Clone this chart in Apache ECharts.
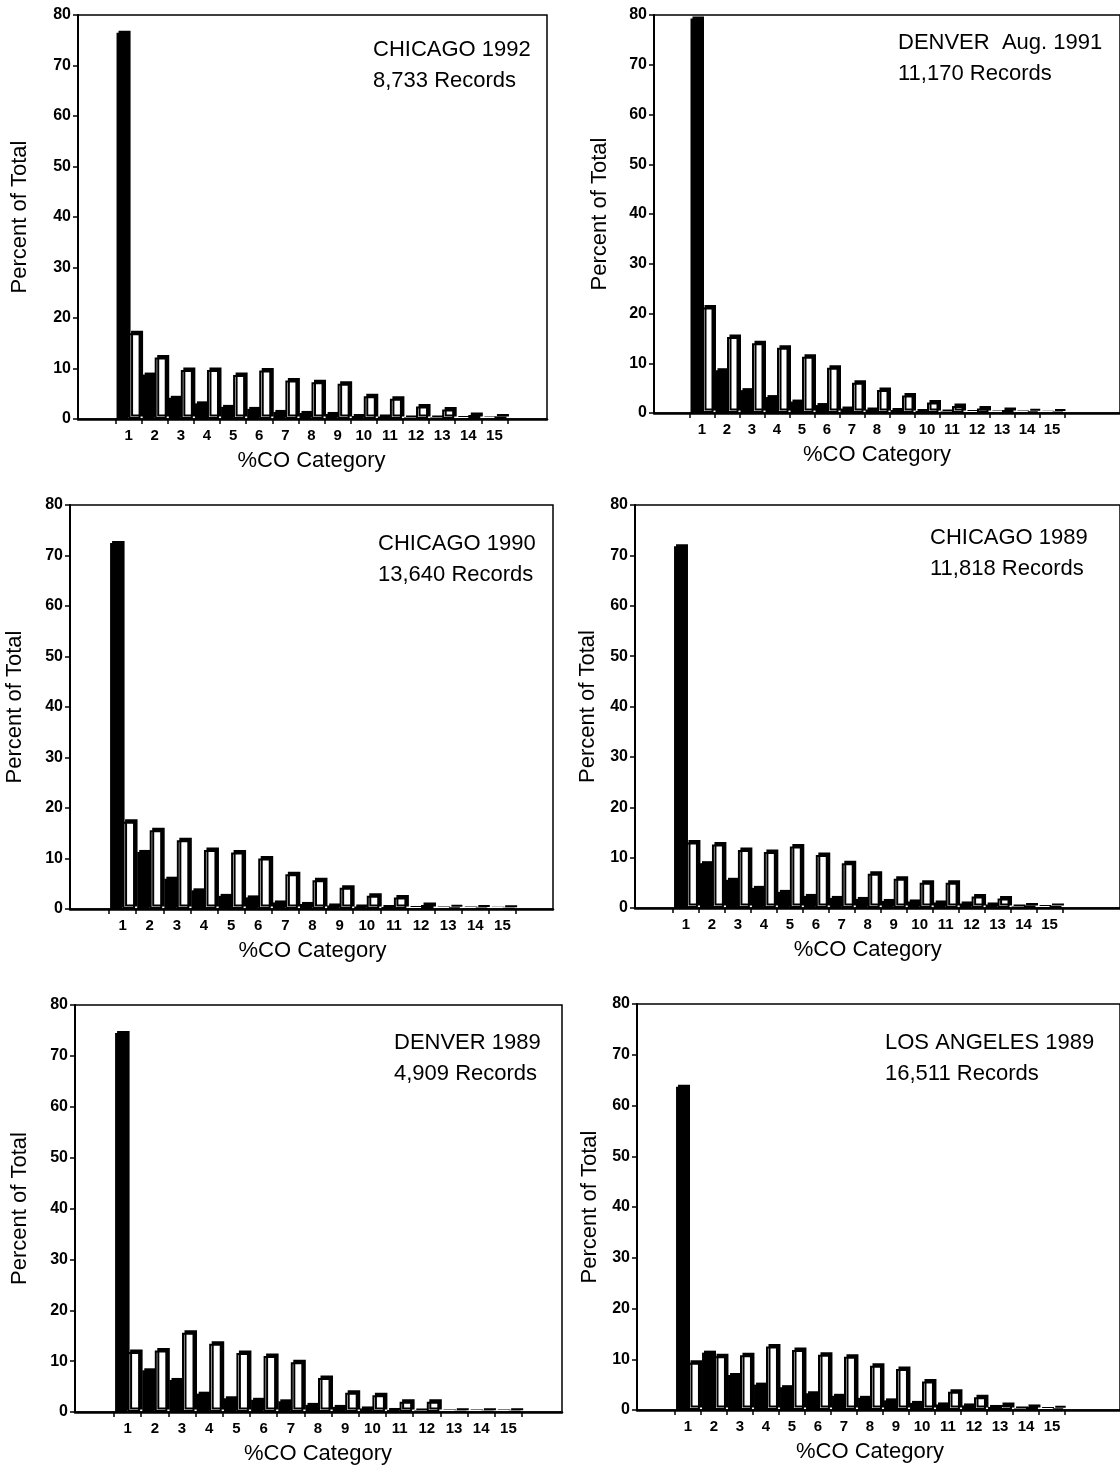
<!DOCTYPE html>
<html lang="en">
<head>
    <meta charset="UTF-8">
    <title>%CO Category distributions</title>
    <script src="https://cdn.jsdelivr.net/npm/echarts@6/dist/echarts.min.js"></script>
</head>
<body style="margin: 0; background: #fff">
<div id="main" style="width: 1120px; height: 1467px"></div>

<script type="text/javascript">
    // %CO categories shown on the x axis
    var categories = ['1', '2', '3', '4', '5', '6', '7', '8', '9', '10', '11', '12', '13', '14', '15'];

    // percent of total, dark bar / light bar in each category
    var chi1992Dark  = [76.5, 8.8, 4.2, 3.1, 2.4, 2.0, 1.4, 1.2, 1.0, 0.6, 0.5, 0.3, 0.3, 0.2, 0.1];
    var chi1992Light = [17.0, 12.2, 9.7, 9.7, 8.7, 9.6, 7.6, 7.3, 7.0, 4.5, 4.0, 2.5, 1.9, 0.8, 0.5];

    var den1991Dark  = [79.3, 8.6, 4.6, 3.2, 2.3, 1.6, 0.9, 0.7, 0.6, 0.4, 0.3, 0.2, 0.1, 0.1, 0.05];
    var den1991Light = [21.2, 15.3, 14.0, 13.1, 11.3, 9.1, 6.1, 4.6, 3.5, 2.1, 1.4, 0.9, 0.6, 0.3, 0.2];

    var chi1990Dark  = [72.5, 11.3, 6.0, 3.7, 2.6, 2.3, 1.3, 1.0, 0.7, 0.5, 0.4, 0.2, 0.1, 0.1, 0.05];
    var chi1990Light = [17.3, 15.6, 13.6, 11.7, 11.2, 10.0, 6.9, 5.7, 4.2, 2.6, 2.3, 0.8, 0.3, 0.2, 0.1];

    var chi1989Dark  = [71.8, 8.9, 5.6, 4.0, 3.2, 2.4, 2.0, 1.8, 1.4, 1.3, 1.1, 0.9, 0.7, 0.3, 0.2];
    var chi1989Light = [13.0, 12.6, 11.5, 11.1, 12.2, 10.5, 8.9, 6.8, 5.8, 5.0, 5.0, 2.3, 1.9, 0.5, 0.4];

    var den1989Dark  = [74.5, 8.2, 6.3, 3.6, 2.7, 2.4, 2.1, 1.4, 1.0, 0.7, 0.4, 0.3, 0.1, 0.1, 0.1];
    var den1989Light = [11.8, 12.1, 15.6, 13.4, 11.6, 11.0, 9.8, 6.7, 3.8, 3.3, 2.0, 2.0, 0.1, 0.1, 0.1];

    var la1989Dark  = [63.7, 11.3, 6.9, 5.0, 4.5, 3.3, 2.8, 2.4, 1.9, 1.4, 1.1, 0.9, 0.6, 0.3, 0.2];
    var la1989Light = [9.3, 10.6, 10.8, 12.5, 11.8, 10.9, 10.5, 8.7, 8.1, 5.6, 3.6, 2.5, 1.0, 0.6, 0.3];

    var FONT = '"Liberation Sans", Arial, Helvetica, sans-serif';

    // frame = [left, top, width, height], bars = [left, width] of categories 1..15
    var panels = [
        {label: 'CHICAGO 1992\n8,733 Records', dark: chi1992Dark, light: chi1992Light,
            frame: [78, 15, 469, 404], bars: [115.5, 392], nameGap: 47, text: [373, 34]},
        {label: 'DENVER  Aug. 1991\n11,170 Records', dark: den1991Dark, light: den1991Light,
            frame: [654, 15, 480, 398], bars: [689.5, 375], nameGap: 43, text: [898, 27]},
        {label: 'CHICAGO 1990\n13,640 Records', dark: chi1990Dark, light: chi1990Light,
            frame: [70, 505, 483, 404], bars: [109, 407], nameGap: 44, text: [378, 528]},
        {label: 'CHICAGO 1989\n11,818 Records', dark: chi1989Dark, light: chi1989Light,
            frame: [635, 505, 500, 403], bars: [673, 389.5], nameGap: 36, text: [930, 522]},
        {label: 'DENVER 1989\n4,909 Records', dark: den1989Dark, light: den1989Light,
            frame: [75, 1005, 487, 407], bars: [114, 408], nameGap: 44, text: [394, 1027]},
        {label: 'LOS ANGELES 1989\n16,511 Records', dark: la1989Dark, light: la1989Light,
            frame: [637, 1004, 500, 406], bars: [675, 390], nameGap: 36, text: [885, 1027]}
    ];

    var myChart = echarts.init(document.getElementById('main'));

    var grids = [], xAxes = [], yAxes = [], series = [], titles = [];

    panels.forEach(function (p, i) {
        var f = p.frame;
        // outer frame with the visible y axis
        grids.push({left: f[0], top: f[1], width: f[2], height: f[3],
            show: true, borderColor: '#000', borderWidth: 1.5});
        // inner grid that holds categories 1..15
        grids.push({left: p.bars[0], top: f[1], width: p.bars[1], height: f[3]});

        xAxes.push({
            gridIndex: 2 * i, type: 'value', min: 0, max: 1,
            axisLine: {lineStyle: {color: '#000', width: 2.5}},
            axisTick: {show: false}, axisLabel: {show: false}, splitLine: {show: false}
        });
        xAxes.push({
            gridIndex: 2 * i + 1, type: 'category', data: categories,
            axisLine: {show: false},
            axisTick: {show: true, length: 5, lineStyle: {color: '#000', width: 1.5}},
            axisLabel: {color: '#000', fontSize: 15, fontWeight: 'bold', fontFamily: FONT, margin: 9},
            name: '%CO Category', nameLocation: 'middle', nameGap: 31,
            nameTextStyle: {color: '#000', fontSize: 22, fontFamily: FONT}
        });

        yAxes.push({
            gridIndex: 2 * i, type: 'value', min: 0, max: 80, interval: 10,
            axisLine: {show: true, lineStyle: {color: '#000', width: 2}},
            axisTick: {show: true, length: 5, lineStyle: {color: '#000', width: 1.5}},
            axisLabel: {color: '#000', fontSize: 16, fontWeight: 'bold', fontFamily: FONT, margin: 7},
            splitLine: {show: false},
            name: 'Percent of Total', nameLocation: 'middle', nameGap: p.nameGap,
            nameTextStyle: {color: '#000', fontSize: 22, fontFamily: FONT}
        });
        yAxes.push({gridIndex: 2 * i + 1, type: 'value', min: 0, max: 80, show: false});

        series.push({
            type: 'bar', name: 'dark', xAxisIndex: 2 * i + 1, yAxisIndex: 2 * i + 1,
            data: p.dark, barGap: '0%', barCategoryGap: '8%', silent: true,
            itemStyle: {color: '#000', shadowColor: '#000', shadowOffsetX: 2, shadowOffsetY: -2}
        });
        series.push({
            type: 'bar', name: 'light', xAxisIndex: 2 * i + 1, yAxisIndex: 2 * i + 1,
            data: p.light, barGap: '0%', barCategoryGap: '8%', silent: true,
            itemStyle: {color: '#fff', borderColor: '#000', borderWidth: 2,
                shadowColor: '#000', shadowOffsetX: 2.5, shadowOffsetY: -2.5}
        });

        titles.push({
            text: p.label, left: p.text[0], top: p.text[1], padding: 0,
            textStyle: {color: '#000', fontSize: 22, fontWeight: 'normal', lineHeight: 31, fontFamily: FONT}
        });
    });

    myChart.setOption({
        animation: false,
        backgroundColor: '#fff',
        title: titles,
        grid: grids,
        xAxis: xAxes,
        yAxis: yAxes,
        series: series
    });
</script>
</body>
</html>
